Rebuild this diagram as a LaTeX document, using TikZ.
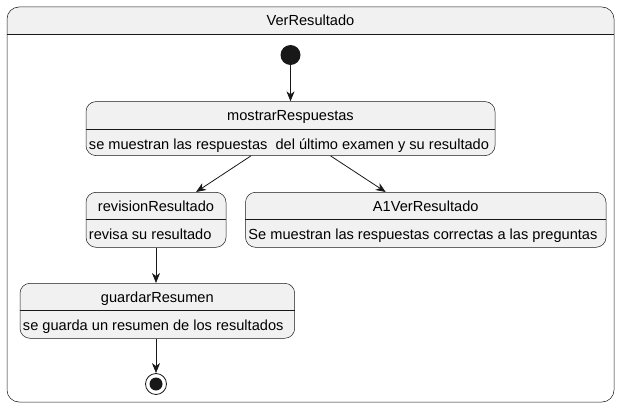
\documentclass[tikz,border=0pt]{standalone}
\usepackage{fontspec}
\setmainfont{Liberation Sans}
\usetikzlibrary{positioning,arrows.meta,calc}

\definecolor{boxfill}{HTML}{F1F1F1}
\definecolor{boxline}{HTML}{181818}

\begin{document}
\begin{tikzpicture}[x=1pt,y=-1pt,
    state/.style={draw=boxline, fill=boxfill, rounded corners=10pt, line width=0.5pt, inner sep=0pt},
    txt/.style={font=\fontsize{14.6}{17}\selectfont, inner sep=0pt, anchor=base},
    desc/.style={txt, anchor=base west},
    trans/.style={-{Stealth[length=10pt,width=8pt,inset=3pt]}, line width=0.8pt, draw=boxline}]
  \useasboundingbox (0,0) rectangle (621,409);

  % composite state
  \begin{scope}
    \clip (0,0) rectangle (621,34);
    \fill[boxfill, rounded corners=12pt] (7,7) rectangle (614,402);
  \end{scope}
  \node[draw=boxline, line width=0.5pt, rounded corners=12pt, minimum width=607, minimum height=395, inner sep=0pt] (frame) at (310.5,204.5) {};
  \draw[boxline, line width=0.5pt] (frame.west |- 0,34) -- (frame.east |- 0,34);
  \node[txt] (title) at (310.5,26) {VerResultado};

  \node[circle, fill=boxline, minimum size=20, inner sep=0pt] (start) at (290.5,55) {};

  % mostrarRespuestas
  \node[state, minimum width=409, minimum height=54] (mostrar) at (290.5,128.6) {};
  \draw[boxline, line width=0.5pt] ($(mostrar.north west)+(0,27.5)$) -- ($(mostrar.north east)+(0,27.5)$);
  \node[txt] (mostrarT) at ($(mostrar.north)+(0,19.4)$) {mostrarRespuestas};
  \node[desc] (mostrarB) at ($(mostrar.north west)+(3,47.7)$) {se muestran las respuestas\ \ del último examen y su resultado};

  % revisionResultado
  \node[state, minimum width=140, minimum height=55] (revision) at (156,219.8) {};
  \draw[boxline, line width=0.5pt] ($(revision.north west)+(0,27.5)$) -- ($(revision.north east)+(0,27.5)$);
  \node[txt] (revisionT) at ($(revision.north)+(0,19.4)$) {revisionResultado};
  \node[desc] (revisionB) at ($(revision.north west)+(3,47.7)$) {revisa su resultado};

  % A1VerResultado
  \node[state, minimum width=360.5, minimum height=55] (aver) at (425.75,219.8) {};
  \draw[boxline, line width=0.5pt] ($(aver.north west)+(0,27.5)$) -- ($(aver.north east)+(0,27.5)$);
  \node[txt] (averT) at ($(aver.north)+(0,19.4)$) {A1VerResultado};
  \node[desc] (averB) at ($(aver.north west)+(3,47.7)$) {Se muestran las respuestas correctas a las preguntas};

  % guardarResumen
  \node[state, minimum width=274.7, minimum height=55] (guardar) at (157.35,310.8) {};
  \draw[boxline, line width=0.5pt] ($(guardar.north west)+(0,27.5)$) -- ($(guardar.north east)+(0,27.5)$);
  \node[txt] (guardarT) at ($(guardar.north)+(0,19.4)$) {guardarResumen};
  \node[desc] (guardarB) at ($(guardar.north west)+(3,47.7)$) {se guarda un resumen de los resultados};

  \node[circle, draw=boxline, line width=0.8pt, minimum size=21, inner sep=0pt] (fin) at (156,384) {};
  \node[circle, fill=boxline, minimum size=13, inner sep=0pt] (finDot) at (fin.center) {};

  % transitions
  \draw[trans] (start) -- (mostrar.north -| start);
  \draw[trans] ($(mostrar.south)+(-39.5,0)$) -- ($(revision.north)+(40,0)$);
  \draw[trans] ($(mostrar.south)+(40,0)$) -- ($(aver.north)+(-40,0)$);
  \draw[trans] (revision.south) -- (revision.south |- guardar.north);
  \draw[trans] (revision.south |- guardar.south) -- (fin);
\end{tikzpicture}
\end{document}
